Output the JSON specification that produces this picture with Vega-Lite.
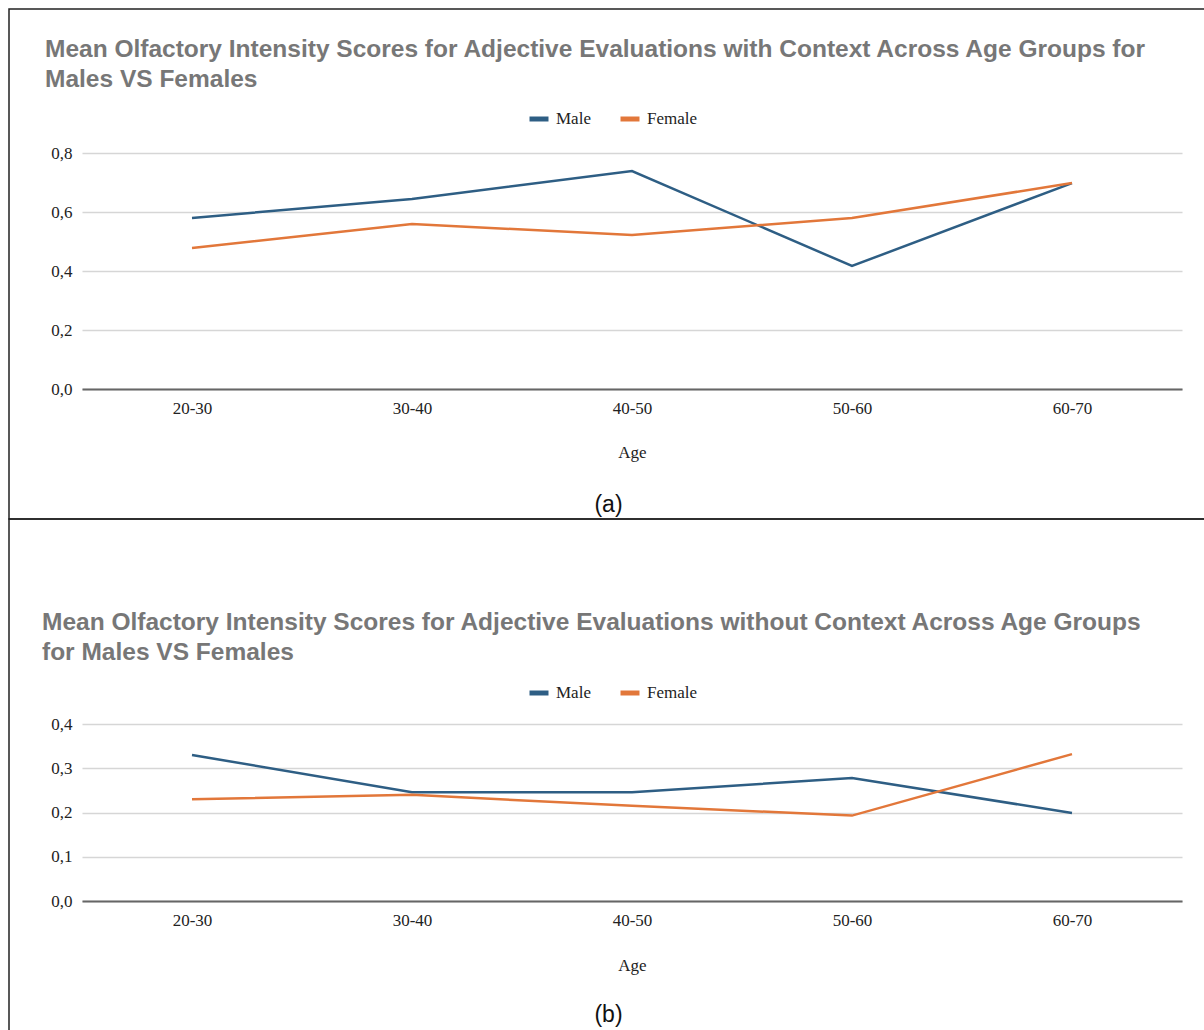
{
  "$schema": "https://vega.github.io/schema/vega-lite/v6.json",
  "padding": {"left": 8, "top": 8, "right": 0, "bottom": 0},
  "background": "white",
  "bounds": "flush",
  "spacing": 0,
  "resolve": {"scale": {"color": "independent"}, "legend": {"color": "independent"}},
  "config": {
    "view": {"stroke": "#222222", "strokeWidth": 1.5},
    "font": "Liberation Serif",
    "axis": {"labelFont": "Liberation Serif", "titleFont": "Liberation Serif", "labelColor": "#222222", "titleColor": "#222222", "labelFontSize": 17, "titleFontSize": 17, "titleFontWeight": "normal"},
    "legend": {"labelFont": "Liberation Serif", "labelFontSize": 17, "labelColor": "#222222"},
    "title": {"font": "Liberation Sans", "fontSize": 24.5, "lineHeight": 30, "color": "#777777", "fontWeight": "bold", "anchor": "start", "frame": "group"}
  },
  "datasets": {
    "withContext": [
      {"age": "20-30", "sex": "Male", "score": 0.58},
      {"age": "30-40", "sex": "Male", "score": 0.644},
      {"age": "40-50", "sex": "Male", "score": 0.739},
      {"age": "50-60", "sex": "Male", "score": 0.417},
      {"age": "60-70", "sex": "Male", "score": 0.698},
      {"age": "20-30", "sex": "Female", "score": 0.478},
      {"age": "30-40", "sex": "Female", "score": 0.559},
      {"age": "40-50", "sex": "Female", "score": 0.522},
      {"age": "50-60", "sex": "Female", "score": 0.58},
      {"age": "60-70", "sex": "Female", "score": 0.698}
    ],
    "withoutContext": [
      {"age": "20-30", "sex": "Male", "score": 0.33},
      {"age": "30-40", "sex": "Male", "score": 0.246},
      {"age": "40-50", "sex": "Male", "score": 0.246},
      {"age": "50-60", "sex": "Male", "score": 0.278},
      {"age": "60-70", "sex": "Male", "score": 0.199},
      {"age": "20-30", "sex": "Female", "score": 0.23},
      {"age": "30-40", "sex": "Female", "score": 0.24},
      {"age": "40-50", "sex": "Female", "score": 0.215},
      {"age": "50-60", "sex": "Female", "score": 0.193},
      {"age": "60-70", "sex": "Female", "score": 0.332}
    ]
  },
  "vconcat": [
    {
      "width": 1196,
      "height": 510,
      "data": {"name": "withContext"},
      "title": {"text": ["Mean Olfactory Intensity Scores for Adjective Evaluations with Context Across Age Groups for", "Males VS Females"], "offset": -83, "dx": 36},
      "resolve": {"axis": {"x": "independent"}},
      "layer": [
        {
          "transform": [{"filter": "datum.sex === 'Male'"}],
          "mark": {"type": "line", "strokeWidth": 2.5},
          "encoding": {
            "x": {"field": "age", "type": "ordinal", "sort": ["20-30", "30-40", "40-50", "50-60", "60-70"],
              "scale": {"type": "point", "range": [73, 1173], "padding": 0.5},
              "axis": {"orient": "bottom", "offset": -130, "title": "Age", "labelAngle": 0, "ticks": false, "grid": false, "domain": true, "domainColor": "#666666", "domainWidth": 2, "labelPadding": 11, "titlePadding": 28}},
            "y": {"field": "score", "type": "quantitative",
              "scale": {"domain": [0, 0.8], "range": [380, 144], "nice": false},
              "axis": {"orient": "left", "offset": -73, "title": null, "values": [0, 0.2, 0.4, 0.6, 0.8], "labelExpr": "replace(format(datum.value, '.1f'), '.', ',')", "ticks": false, "domain": false, "grid": true, "gridColor": "#d6d6d6", "gridWidth": 1.5, "labelPadding": 10}},
            "color": {"field": "sex", "type": "nominal", "title": null,
              "scale": {"domain": ["Male", "Female"], "range": ["#2E5E84", "#E2773A"]},
              "legend": {"orient": "none", "legendX": 518, "legendY": 98, "direction": "horizontal", "symbolType": "stroke", "symbolSize": 361, "symbolStrokeWidth": 5, "labelOffset": 5, "columnPadding": 19}}
          }
        },
        {
          "transform": [{"filter": "datum.sex === 'Female'"}],
          "mark": {"type": "line", "strokeWidth": 2.5},
          "encoding": {
            "x": {"field": "age", "type": "ordinal", "sort": ["20-30", "30-40", "40-50", "50-60", "60-70"],
              "axis": {"orient": "bottom", "offset": -26, "title": "(a)", "titleFont": "Liberation Sans", "titleFontSize": 23, "titleColor": "#111111", "titleX": 599, "labels": false, "ticks": false, "grid": false, "domain": false, "titlePadding": 0}},
            "y": {"field": "score", "type": "quantitative"},
            "color": {"field": "sex", "type": "nominal"}
          }
        }
      ]
    },
    {
      "width": 1196,
      "height": 512,
      "data": {"name": "withoutContext"},
      "title": {"text": ["Mean Olfactory Intensity Scores for Adjective Evaluations without Context Across Age Groups", "for Males VS Females"], "offset": -146, "dx": 33},
      "resolve": {"axis": {"x": "independent"}},
      "layer": [
        {
          "transform": [{"filter": "datum.sex === 'Male'"}],
          "mark": {"type": "line", "strokeWidth": 2.5},
          "encoding": {
            "x": {"field": "age", "type": "ordinal", "sort": ["20-30", "30-40", "40-50", "50-60", "60-70"],
              "scale": {"type": "point", "range": [73, 1173], "padding": 0.5},
              "axis": {"orient": "bottom", "offset": -130, "title": "Age", "labelAngle": 0, "ticks": false, "grid": false, "domain": true, "domainColor": "#666666", "domainWidth": 2, "labelPadding": 11, "titlePadding": 29}},
            "y": {"field": "score", "type": "quantitative",
              "scale": {"domain": [0, 0.4], "range": [382, 205], "nice": false},
              "axis": {"orient": "left", "offset": -73, "title": null, "values": [0, 0.1, 0.2, 0.3, 0.4], "labelExpr": "replace(format(datum.value, '.1f'), '.', ',')", "ticks": false, "domain": false, "grid": true, "gridColor": "#d6d6d6", "gridWidth": 1.5, "labelPadding": 10}},
            "color": {"field": "sex", "type": "nominal", "title": null,
              "scale": {"domain": ["Male", "Female"], "range": ["#2E5E84", "#E2773A"]},
              "legend": {"orient": "none", "legendX": 518, "legendY": 162, "direction": "horizontal", "symbolType": "stroke", "symbolSize": 361, "symbolStrokeWidth": 5, "labelOffset": 5, "columnPadding": 19}}
          }
        },
        {
          "transform": [{"filter": "datum.sex === 'Female'"}],
          "mark": {"type": "line", "strokeWidth": 2.5},
          "encoding": {
            "x": {"field": "age", "type": "ordinal", "sort": ["20-30", "30-40", "40-50", "50-60", "60-70"],
              "axis": {"orient": "bottom", "offset": -28, "title": "(b)", "titleFont": "Liberation Sans", "titleFontSize": 23, "titleColor": "#111111", "titleX": 599, "labels": false, "ticks": false, "grid": false, "domain": false, "titlePadding": 0}},
            "y": {"field": "score", "type": "quantitative"},
            "color": {"field": "sex", "type": "nominal"}
          }
        }
      ]
    }
  ]
}
